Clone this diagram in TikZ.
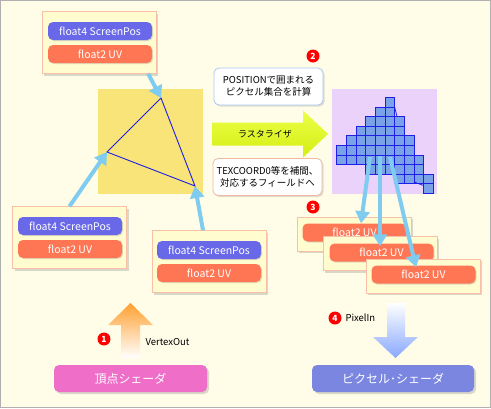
\documentclass[tikz,border=0pt]{standalone}
\usepackage{fontspec}
\setmainfont{Noto Sans CJK JP}
\usetikzlibrary{arrows.meta,shadows}
\definecolor{bgcream}{RGB}{255,253,232}
\definecolor{framegray}{RGB}{176,176,176}
\definecolor{boxcream}{RGB}{255,252,208}
\definecolor{boxedge}{RGB}{248,192,168}
\definecolor{pillblue}{RGB}{104,104,232}
\definecolor{pillorange}{RGB}{255,118,84}
\definecolor{sqyellow}{RGB}{248,228,120}
\definecolor{lavender}{RGB}{234,210,250}
\definecolor{cellfill}{RGB}{122,162,232}
\definecolor{celledge}{RGB}{30,30,230}
\definecolor{feedblue}{RGB}{128,204,240}
\definecolor{noteblue}{RGB}{168,200,240}
\definecolor{notepink}{RGB}{240,184,160}
\definecolor{rastgreen}{RGB}{212,238,20}
\definecolor{rastlight}{RGB}{236,255,70}
\definecolor{vtxorange}{RGB}{255,160,48}
\definecolor{pixblue}{RGB}{136,168,255}
\definecolor{vsfill}{RGB}{238,110,200}
\definecolor{psfill}{RGB}{122,134,224}
\tikzset{
    vbox/.style={draw=boxedge,fill=boxcream,minimum width=114pt,minimum height=62pt,
        drop shadow={shadow xshift=2pt,shadow yshift=-2pt,opacity=.3}},
    fbox/.style={vbox,minimum height=34pt},
    pill/.style={rounded corners=5pt,text=white,minimum width=104pt,minimum height=18pt,
        inner sep=0pt,font=\fontsize{10.5}{12}\selectfont,
        drop shadow={shadow xshift=1pt,shadow yshift=-1pt,opacity=.25}},
    pospill/.style={pill,fill=pillblue},
    uvpill/.style={pill,fill=pillorange},
    note/.style={fill=white,rounded corners=5pt,line width=.8pt,minimum width=109pt,
        minimum height=37pt,align=center,inner sep=0pt,font=\fontsize{9.5}{12}\selectfont,
        drop shadow={shadow xshift=1.5pt,shadow yshift=-1.5pt,opacity=.25}},
    badge/.style={circle,fill=red,text=white,inner sep=0pt,minimum size=13pt,
        font=\fontsize{8.5}{8.5}\selectfont\bfseries},
    feed/.style={feedblue,line width=4pt,-{Triangle[length=12pt,width=14pt]}},
    cell/.style={draw=celledge,fill=cellfill,line width=.8pt},
    shader/.style={rounded corners=5pt,text=white,minimum height=27pt,inner sep=0pt,
        font=\fontsize{12}{14}\selectfont,
        drop shadow={shadow xshift=2pt,shadow yshift=-2pt,opacity=.3}},
    caption/.style={anchor=west,font=\fontsize{9.5}{11}\selectfont}
}
\begin{document}
\begin{tikzpicture}[x=1pt,y=-1pt]
    \useasboundingbox (0,0) rectangle (491,408);
    \draw[framegray,fill=bgcream] (0.5,0.5) rectangle (490.5,407.5);

    % primitive
    \fill[sqyellow] (98,89) rectangle (203,194);
    \coordinate (v1) at (161,98);
    \coordinate (v2) at (107,152);
    \coordinate (v3) at (195,186);
    \draw[celledge,line width=.9pt] (v1) -- (v2) -- (v3) -- cycle;

    % vertex data
    \node[vbox] (vin1) at (99,42.5) {};
    \node[pospill] (pos1) at (100,31) {float4 ScreenPos};
    \node[uvpill] (uv1) at (100,54) {float2 UV};

    \node[vbox] (vin2) at (69.5,237.5) {};
    \node[pospill] (pos2) at (70,226) {float4 ScreenPos};
    \node[uvpill] (uv2) at (70,249) {float2 UV};

    \node[vbox] (vin3) at (209,261.5) {};
    \node[pospill] (pos3) at (209,250) {float4 ScreenPos};
    \node[uvpill] (uv3) at (209,273) {float2 UV};

    \draw[feed] ([xshift=-8pt]vin1.south east) -- (v1);
    \draw[feed] (vin2.north) -- (v2);
    \draw[feed] ([xshift=-6pt]vin3.north) -- (v3);

    % rasterizer
    \node[note,draw=noteblue] (calc) at (268.5,86.5) {POSITIONで囲まれる\\ピクセル集合を計算};
    \node[badge] (n2) at (313,56) {2};
    \shade[top color=rastlight,bottom color=rastgreen]
        (212,122.5) -- (303,122.5) -- (303,110.5) -- (328,134)
        -- (303,157.5) -- (303,145.5) -- (212,145.5) -- cycle;
    \node[font=\fontsize{9}{11}\selectfont] (rast) at (265,134) {ラスタライザ};
    \node[note,draw=notepink] (interp) at (267.5,177) {TEXCOORD0等を補間、\\対応するフィールドへ};
    \node[badge] (n3) at (313,207) {3};

    % pixels
    \fill[lavender] (332,89) rectangle (437,194);
    \foreach \r/\a/\b in {0/5/5,1/4/5,2/3/6,3/2/6,4/1/7,5/0/7,6/0/8,7/3/8,8/6/9,9/9/9}
    {
        \foreach \c in {\a,...,\b}
        {
            \draw[cell] ({336.7+9.65*\c},{97.3+9.6*\r}) rectangle ++(9.65,9.6);
        }
    }
    \draw[celledge,line width=.8pt] (394.6,107) -- (397,116.5);
    \draw[celledge,line width=.8pt] (414,182) -- (423.6,185.5);
    \coordinate (p1) at (370,157);
    \coordinate (p2) at (380,156);
    \coordinate (p3) at (390,157);

    % fragments
    \node[fbox] (fragA) at (354,234) {};
    \node[uvpill] (uvA) at (354.5,232.5) {float2 UV};
    \node[fbox] (fragB) at (380,253.5) {};
    \node[uvpill] (uvB) at (381.5,252.5) {float2 UV};
    \node[fbox] (fragC) at (423,276) {};
    \node[uvpill] (uvC) at (423.5,274.5) {float2 UV};

    \draw[feed] (p1) -- ([xshift=6.5pt]uvA.north);
    \draw[feed] (p2) -- ([xshift=-1.5pt,yshift=-3pt]uvB.north);
    \draw[feed] (p3) -- ([xshift=-7.5pt,yshift=-2pt]uvC.north);

    % shaders
    \shade[top color=vtxorange,middle color=vtxorange!60,bottom color=white]
        (130.5,303) -- (153,325) -- (140,325) -- (140,358)
        -- (121,358) -- (121,325) -- (108,325) -- cycle;
    \node[badge] (n1) at (104,339) {1};
    \node[caption] (vout) at (142,342) {VertexOut};
    \shade[top color=white,bottom color=pixblue]
        (387,303) -- (405,303) -- (405,337) -- (418,337)
        -- (395.5,358) -- (373,337) -- (387,337) -- cycle;
    \node[badge] (n4) at (335,318) {4};
    \node[caption] (pin) at (342,318) {PixelIn};

    \node[shader,fill=vsfill,minimum width=153pt] (vs) at (130.5,378.5) {頂点シェーダ};
    \node[shader,fill=psfill,minimum width=162pt] (ps) at (393,378.5) {ピクセル･シェーダ};
\end{tikzpicture}
\end{document}
